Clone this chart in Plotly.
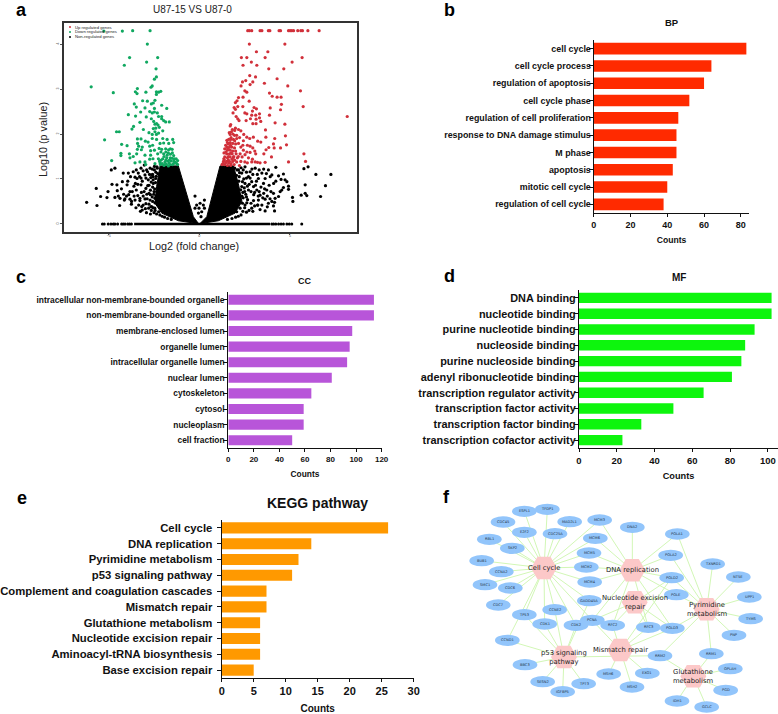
import plotly.graph_objects as go

W, H = 778, 714
SANS = "Liberation Sans"

# ---------- panel a: volcano plot (log2 fold change, -log10 p) ----------
up_points = [
 (2.67,4.3),(2.76,4.3),(2.89,4.3),(3.35,4.3),(3.45,4.3),(3.81,4.3),(3.89,4.3),(4.4,4.3),(4.48,4.3),(4.92,4.3),(5.01,4.3),(5.1,4.3),(5.2,4.3),(5.43,4.3),(5.6,4.3),(5.69,4.3),(5.99,4.3),(6.61,4.3),
 (2.76,4.0),(4.72,4.0),(3.15,3.83),(3.78,3.83),(2.32,3.7),(2.62,3.7),(3.63,3.7),(5.67,3.7),(2.87,3.6),(5.12,3.6),(2.41,3.53),(3.17,3.53),(3.83,3.45),(4.66,3.45),
 (2.78,3.3),(3.1,3.27),(4.29,3.23),(2.56,3.19),(2.38,3.16),(2.95,3.16),(2.8,3.1),(3.59,3.13),(2.3,3.07),(4.88,3.07),(2.51,2.96),(2.62,2.93),(5.58,2.96),(3.87,2.91),(4.02,2.84),(4.29,2.82),(4.51,2.82),
 (2.41,2.82),(2.16,2.81),(2.08,2.74),(2.75,2.73),(1.99,2.7),(4.53,2.66),(1.92,2.59),(2.12,2.61),(2.4,2.61),(3.02,2.59),(3.15,2.56),(3.91,2.58),(5.73,2.61),(4.48,2.54),(1.86,2.47),(1.99,2.55),(2.93,2.51),
 (8.16,2.39),(3.32,2.45),(3.87,2.42),(2.51,2.47),(2.62,2.45),(2.89,2.42),(3.11,2.42),(3.32,2.36),(2.03,2.39),(2.12,2.34),(2.82,2.34),(3.13,2.33),(2.19,2.3),(2.58,2.3),(3.39,2.28),(4.18,2.25),(4.72,2.22),
 (1.73,2.21),(1.7,2.18),(2.95,2.23),(1.99,2.13),(3.13,2.23),(3.65,2.09),(1.77,2.05),(1.95,2.08),(2.16,2.1),(2.29,2.07),(2.45,1.99),(1.7,1.99),(2.06,1.97),(1.94,1.97),(4.75,1.96),(3.67,1.93),(4.16,1.9),(2.98,1.93),(2.78,1.9),(3.22,1.84),(3.39,1.82),
 (1.62,1.88),(1.73,1.88),(1.88,1.88),(2.06,1.9),(2.43,1.85),(2.62,1.93),(1.55,1.81),(1.7,1.81),(1.84,1.79),(2.16,1.79),(4.81,1.76),(4.09,1.78),(3.83,1.7),(4.48,1.69),(4.13,1.69),(3.68,1.65),(2.65,1.75),(2.8,1.73),(2.95,1.69),
 (1.51,1.71),(1.66,1.71),(1.79,1.71),(1.94,1.69),(2.29,1.71),(1.4,1.67),(1.55,1.64),(1.7,1.64),(1.84,1.62),(2.43,1.64),(3.06,1.62),(2.62,1.6),(5.77,1.56),(3.56,1.56),(2.8,1.59),(3.11,1.56),
 (1.36,1.58),(1.51,1.56),(1.66,1.56),(1.81,1.56),(2.03,1.56),(2.25,1.56),(2.52,1.54),(2.93,1.44),(3.98,1.49),(1.4,1.49),(1.55,1.47),(1.7,1.49),(1.88,1.48),(2.1,1.47),(2.36,1.49),(2.71,1.47),
 (5.86,1.39),(4.92,1.38),(2.89,1.38),(3.08,1.38),(3.21,1.37),(3.35,1.36),(3.63,1.37),(1.33,1.39),(1.51,1.39),(1.66,1.39),(1.84,1.39),(2.06,1.38),(2.29,1.39),(2.51,1.38),(2.65,1.36),
 (1.25,1.32),(1.4,1.32),(1.55,1.3),(1.73,1.3),(1.92,1.32),(2.21,1.3),(1.45,1.75),(1.6,1.78),(1.75,1.92),(1.35,1.45),(1.45,1.36),(1.6,1.42),(1.75,1.34),(1.95,1.42),(1.47,1.6),(1.6,1.5),(1.75,1.58),(1.9,1.5),(2.0,1.62),(1.95,1.85),(1.65,2.03),(1.85,2.0),
 (1.3,1.34),(1.38,1.42),(1.62,1.35),(1.8,1.44),(2.15,1.5),(1.58,1.68),(1.72,1.75),(2.0,1.78),(1.52,1.86),(1.82,2.1),(2.22,1.92),(2.4,1.75),
]
down_points = [
 (-2.72,4.3),(-3.68,4.3),(-4.25,4.29),(-5.27,4.29),(-2.87,4.0),(-3.85,3.7),(-2.3,3.7),(-2.91,3.6),(-4.14,3.53),(-2.39,3.45),(-2.37,3.27),(-2.48,3.22),(-2.6,3.07),(-2.67,3.04),(-5.97,3.05),
 (-4.75,2.92),(-3.42,3.01),(-3.53,2.94),(-3.44,2.9),(-2.95,2.93),(-2.37,2.94),(-2.13,2.95),(-2.25,2.93),(-2.37,2.88),(-3.13,2.74),(-2.87,2.73),(-2.45,2.75),(-3.59,2.67),(-2.54,2.69),(-2.65,2.67),
 (-3.48,2.6),(-2.08,2.64),(-3.0,2.58),(-2.48,2.57),(-1.8,2.57),(-2.74,2.5),(-2.6,2.47),(-2.48,2.49),(-2.32,2.47),(-3.24,2.49),(-3.92,2.43),(-3.52,2.4),(-2.93,2.38),(-2.25,2.39),(-2.08,2.39),(-2.08,2.34),(-2.65,2.34),
 (-3.28,2.26),(-2.52,2.28),(-1.97,2.3),(-2.45,2.22),(-2.36,2.23),(-2.28,2.2),(-1.86,2.27),(-1.66,2.27),(-3.63,2.17),(-3.72,2.11),(-2.54,2.12),(-2.41,2.13),(-2.21,2.15),(-3.09,2.1),(-4.57,2.05),(-4.42,2.05),(-2.78,2.03),(-2.45,2.05),(-2.25,2.02),(-2.02,2.07),(-2.6,1.99),(-2.37,1.99),
 (-5.23,1.87),(-3.42,1.89),(-3.22,1.89),(-2.98,1.84),(-2.6,1.9),(-2.36,1.88),(-2.02,1.9),(-1.78,1.88),(-1.47,1.88),(-2.83,1.82),(-3.41,1.79),(-4.29,1.77),(-3.99,1.74),(-3.35,1.73),(-3.15,1.71),(-2.74,1.73),(-2.58,1.75),(-2.17,1.79),(-1.97,1.8),(-1.69,1.79),(-1.42,1.81),
 (-3.42,1.66),(-3.2,1.65),(-2.69,1.63),(-2.48,1.64),(-2.08,1.66),(-1.86,1.67),(-1.6,1.67),(-4.33,1.57),(-4.33,1.52),(-3.86,1.56),(-3.46,1.56),(-3.65,1.5),(-3.83,1.47),(-3.0,1.53),(-2.69,1.53),(-2.3,1.56),(-1.97,1.56),(-1.71,1.58),(-1.49,1.58),
 (-4.84,1.41),(-3.55,1.36),(-3.28,1.38),(-3.0,1.38),(-2.74,1.44),(-2.56,1.45),(-2.26,1.45),(-2.02,1.45),(-1.8,1.47),(-1.6,1.47),(-1.38,1.45),(-1.2,1.41),(-2.96,1.32),(-2.45,1.34),(-2.17,1.36),(-1.9,1.38),(-1.67,1.36),(-1.43,1.34),(-1.25,1.34),(-1.95,1.3),(-1.71,1.29),
 (-2.15,1.32),(-2.05,1.34),(-1.92,1.32),(-1.82,1.33),(-1.75,1.4),(-1.62,1.32),(-1.55,1.4),(-1.48,1.32),(-1.4,1.4),(-1.32,1.37),(-1.28,1.45),(-1.2,1.32),(-1.5,1.46),(-1.65,1.42),(-1.85,1.42),(-1.95,1.5),(-2.1,1.42),(-2.2,1.4),(-1.78,1.53),(-1.6,1.55),(-1.42,1.52),(-1.85,1.6),(-1.7,1.65),(-1.5,1.66),(-2.12,1.6),(-2.22,1.68),
]
non_points = [
 (-6.22,0.48),(-5.69,0.79),(-5.65,0.41),(-5.45,0.61),(-5.1,0.585),(-5.04,0.72),(-4.82,0.88),(-4.86,1.2),(-4.66,1.24),(-4.55,0.87),(-4.53,0.74),(-4.47,0.62),(-4.4,0.41),(-4.25,0.94),(-4.2,1.13),(-4.14,0.53),(-3.99,0.87),(-3.92,1.13),(-3.83,0.72),(-3.74,0.5),(-3.65,1.16),(-3.61,0.84),(-3.53,0.9),(-3.48,0.755),(-3.44,1.01),(-3.37,1.13),(-3.28,0.57),(-3.22,0.87),(-3.18,0.385),(-3.15,0.31),(-3.04,1.31),(-3.0,1.09),(-2.95,0.79),(-2.91,1.2),(-2.82,0.98),(-2.78,0.68),(-2.72,1.24),(-2.67,0.385),(-2.63,1.09),(-2.54,0.9),(-2.48,1.2),(-2.45,0.57),(-2.41,1.01),(-2.34,1.27),
 (-4.66,0.59),(-4.38,0.57),(-4.11,0.555),(-3.83,0.55),(-3.55,0.53),(-3.28,0.52),(-3.0,0.555),(-2.72,0.53),(-2.45,0.47),(-2.26,0.42),(-4.3,0.78),(-3.9,0.65),(-3.7,0.72),(-3.4,0.63),(-3.2,0.7),(-3.1,0.62),(-2.9,0.66),(-2.85,0.85),(-2.7,0.75),(-2.6,0.6),(-2.55,1.05),(-2.8,0.35),(-2.95,0.45),(-3.1,0.42),(-3.35,0.42),(-2.65,0.3),(-2.5,0.25),(-2.4,1.15),(-2.6,1.22),(-2.75,1.1),(-3.15,0.95),(-3.3,1.05),
 (-2.32,1.24),(-2.38,1.06),(-2.42,0.92),(-2.47,0.78),(-2.52,0.66),(-2.58,0.5),(-2.62,0.38),(-2.55,0.36),(-2.44,0.3),(-2.36,0.22),(-2.25,0.27),(-2.18,0.2),(-2.05,0.17),(-1.92,0.15),(-1.75,0.12),(-1.55,0.1),(-2.3,1.12),(-2.48,1.28),(-2.58,1.1),(-2.66,0.93),(-2.58,0.82),(-2.7,0.65),(-2.78,0.44),(-2.88,0.56),(-2.98,0.34),(-3.05,0.72),(-2.68,1.03),(-2.86,1.16),(-2.5,0.72),(-2.46,0.35),(-2.7,0.22),(-2.92,0.25),(-2.4,0.62),(-2.35,0.52),(-2.55,0.98),(-2.35,0.72),(-2.78,0.86),(-2.95,1.02),(-3.1,1.18),(-3.22,1.02),(-3.4,0.88),(-3.6,0.62),(-3.75,0.44),(-3.5,0.36),(-3.25,0.28),(-4.02,0.62),(-4.18,0.66),(-3.95,0.95),(-3.8,1.05),(-3.55,1.04),(-3.48,1.2),(-3.22,1.24),
 (1.79,0.68),(2.06,0.27),(2.16,1.2),(2.25,0.35),(2.34,1.13),(2.52,1.27),(2.71,1.05),(2.8,1.16),(2.89,0.94),(2.99,0.83),(3.08,1.24),(3.17,0.755),(3.22,0.42),(3.26,1.01),(3.35,0.64),(3.45,1.13),(3.54,0.9),(3.63,1.01),(3.72,0.755),(3.81,1.2),(3.91,1.05),(4.0,1.09),(4.09,0.68),(4.15,0.48),(4.15,0.29),(4.22,1.26),(4.37,1.07),(4.51,0.99),(4.64,1.11),(4.73,0.98),(4.83,0.94),(4.92,0.84),(4.64,0.81),(4.55,0.755),(4.92,0.77),(4.46,0.72),(4.37,0.61),(5.14,0.59),(5.16,0.5),(5.62,0.64),(5.84,0.68),(5.93,0.63),(5.84,0.87),(5.77,1.23),(6.0,1.27),(6.43,1.1),(7.26,1.1),(6.96,0.85),(6.69,0.61),
 (3.22,0.42),(2.89,0.35),(2.52,0.42),(3.63,0.29),(3.81,0.46),(4.09,0.4),(3.45,0.42),(2.71,0.755),(2.34,0.83),(4.18,0.57),(3.9,0.56),(3.63,0.55),(3.26,0.53),(2.99,0.52),(2.62,0.47),(3.0,0.65),(3.3,0.72),(3.55,0.68),(3.75,0.62),(2.75,0.88),(2.6,0.6),(2.35,0.62),(2.45,1.0),(2.2,1.05),(2.4,0.7),(2.95,1.1),(3.15,0.95),(2.6,1.15),(2.3,1.25),
 (1.95,1.24),(2.05,1.08),(2.18,0.95),(2.28,0.76),(2.42,0.58),(2.5,0.36),(2.4,0.28),(2.3,0.2),(2.15,0.17),(2.0,0.15),(1.8,0.12),(1.55,0.1),(2.08,1.2),(2.22,1.14),(2.38,0.94),(2.48,0.8),(2.56,0.66),(2.66,0.54),(2.74,0.3),(2.85,0.46),(2.95,0.28),(3.05,0.7),(2.6,1.02),(2.8,1.02),(2.5,0.72),(2.6,0.26),(2.38,0.46),(2.52,0.9),(2.42,1.2),(2.65,0.84),(2.85,0.72),(3.1,0.86),(3.2,1.1),(3.4,0.82),(3.6,0.78),(3.85,0.86),(3.95,0.72),(4.1,0.9),(4.22,0.95),(3.7,1.12),(3.55,1.22),(3.3,1.2),(2.9,1.22),(3.05,0.4),(3.35,0.32),(3.5,0.58),(4.0,0.5),(3.75,0.38),(3.25,0.62),
 (-0.24,0.62),(0.28,0.53),(0.04,0.46),(-0.15,0.42),(-0.02,0.35),(0.22,0.42),(0.13,0.27),(0.28,0.35),(-0.05,0.24),(-0.24,0.35),(0.09,0.16),
]
wedge_left_x = [-2.17,-1.16,-0.33,-0.05,-0.15,-1.16,-2.08,-2.45,-2.36,-2.17]
wedge_left_y = [1.29,1.29,0.16,0.01,0.01,0.07,0.24,0.46,0.83,1.29]
wedge_right_x = [1.14,1.88,2.15,2.35,1.97,1.05,0.1,0.04,0.41,1.14]
wedge_right_y = [1.29,1.29,0.9,0.5,0.24,0.07,0.01,0.01,0.16,1.29]
zero_row_x = [-5.35,-5.25,-5.03,-4.88,-4.75,-4.66,-4.51,-4.29,-4.2,-4.1,-3.95,-3.85,-3.75,4.0,4.1,4.22,4.37,4.51,4.64,4.83,4.96,5.1,5.65]
zero_band_x = [-3.6,3.9]
zero_band_y = [0,0]
legend_labels = ["Up regulated genes","Down regulated genes","Non-regulated genes"]
legend_key_x = [-7.14,-7.14,-7.14]
legend_key_y = [4.38,4.27,4.16]
volcano_xticks = [-5,0,5]
volcano_yticks = [0,1,2,3,4]

# ---------- panels b-e: enrichment bars ----------
bp_terms = ["cell cycle","cell cycle process","regulation of apoptosis","cell cycle phase","regulation of cell proliferation","response to DNA damage stimulus","M phase","apoptosis","mitotic cell cycle","regulation of cell cycle"]
bp_counts = [83,64,60,52,46,45,45,43,40,38]
cc_terms = ["intracellular non-membrane-bounded organelle","non-membrane-bounded organelle","membrane-enclosed lumen","organelle lumen","intracellular organelle lumen","nuclear lumen","cytoskeleton","cytosol","nucleoplasm","cell fraction"]
cc_counts = [114,114,97,95,93,81,65,59,59,50]
mf_terms = ["DNA binding","nucleotide binding","purine nucleotide binding","nucleoside binding","purine nucleoside binding","adenyl ribonucleotide binding","transcription regulator activity","transcription factor activity","transcription factor binding","transcription cofactor activity"]
mf_counts = [102,102,93,88,86,81,66,50,33,23]
kegg_terms = ["Cell cycle","DNA replication","Pyrimidine metabolism","p53 signaling pathway","Complement and coagulation cascades","Mismatch repair","Glutathione metabolism","Nucleotide excision repair","Aminoacyl-tRNA biosynthesis","Base excision repair"]
kegg_counts = [26,14,12,11,7,7,6,6,6,5]

# ---------- panel f: pathway-gene network (layout units) ----------
hub_names = ["Cell cycle","DNA replication","Nucleotide excision<br>repair","Pyrimidine<br>metabolism","p53 signaling<br>pathway","Mismatch repair","Glutathione<br>metabolism"]
hub_x = [312,577,584,800,372,541,760]
hub_y = [264,271,367,388,531,510,589]
gene_names = ["ESPL1","TFDP1","CDC45","MAD2L1","MCM3","E2F2","CDC25A","DNA2","POLA1","RBL1","MCM6","SKP2","MCM5","POLA2","TXNRD1","BUB1","CCNA2","MCM2","NT5E","POLD2","SMC1","CDC6","MCM4","POLE","UPP1","CDC7","GADD45A","CCNE2","TP53","TYMS","PCNA","CDK1","CDK2","RFC2","RFC3","POLD3","PNP","CCND1","RRM2","RRM1","BBC3","OPLAH","EXO1","MSH6","SESN2","TP73","MSH2","PGD","IGFBP5","IDH1","GCLC"]
gene_x = [253,322,189,389,479,253,345,577,712,148,466,217,447,692,818,125,184,439,895,695,135,211,449,709,928,175,448,344,253,932,457,314,408,518,625,697,882,202,660,814,255,871,622,506,308,431,576,857,368,711,800]
gene_y = [94,88,126,125,120,157,161,142,162,178,175,205,219,226,252,242,275,261,291,293,314,324,306,344,351,375,362,389,404,416,421,432,436,436,442,445,466,481,527,521,554,566,580,582,605,611,621,631,635,663,681]
hub_links = {
 "Cell cycle": ["ESPL1","TFDP1","CDC45","MAD2L1","MCM3","E2F2","CDC25A","RBL1","MCM6","SKP2","MCM5","BUB1","CCNA2","MCM2","SMC1","CDC6","MCM4","CDC7","GADD45A","CCNE2","TP53","CDK1","CDK2","PCNA","CCND1"],
 "DNA replication": ["DNA2","POLA1","MCM3","MCM6","MCM5","MCM2","MCM4","POLA2","POLD2","POLE","POLD3","RFC2","RFC3","PCNA"],
 "Nucleotide excision<br>repair": ["POLD2","POLE","POLD3","RFC2","RFC3","PCNA"],
 "Pyrimidine<br>metabolism": ["POLA1","POLA2","POLD2","POLE","POLD3","TXNRD1","NT5E","UPP1","TYMS","PNP","RRM1","RRM2"],
 "p53 signaling<br>pathway": ["TP53","CDK1","CDK2","CCNE2","CCND1","BBC3","SESN2","IGFBP5","TP73","GADD45A","RRM2"],
 "Mismatch repair": ["PCNA","RFC2","RFC3","POLD3","POLD2","MSH6","EXO1","MSH2"],
 "Glutathione<br>metabolism": ["RRM2","RRM1","OPLAH","PGD","IDH1","GCLC"],
}

panel_letters = ["a","b","c","d","e","f"]
letter_px = [(21,10),(449,10),(21,277),(449,276),(22,498),(447,497)]


def xdom(l, r):
    return [l / W, r / W]

def ydom(top, bottom):
    return [1 - bottom / H, 1 - top / H]

def xp(v):
    return v / W

def yp(v):
    return 1 - v / H

fig = go.Figure()
annotations = []
shapes = []

def note(px, py, text, size, weight=400, family=SANS, color="#111111", textangle=0):
    annotations.append(dict(x=xp(px), y=yp(py), xref="paper", yref="paper", text=text, showarrow=False,
                            xanchor="center", yanchor="middle", textangle=textangle,
                            font=dict(size=size, family=family, color=color, weight=weight)))

# ----- volcano -----
AX_A = dict(xaxis="x", yaxis="y")
def pts(trace_pts, color, name):
    fig.add_trace(go.Scatter(x=[p[0] for p in trace_pts], y=[p[1] for p in trace_pts], mode="markers", name=name,
                             marker=dict(color=color, size=3.2, line=dict(width=0)), showlegend=False, **AX_A))

fig.add_trace(go.Scatter(x=wedge_left_x, y=wedge_left_y, mode="lines", fill="toself", fillcolor="#000000",
                         line=dict(color="#000000", width=1), showlegend=False, hoverinfo="skip", **AX_A))
fig.add_trace(go.Scatter(x=wedge_right_x, y=wedge_right_y, mode="lines", fill="toself", fillcolor="#000000",
                         line=dict(color="#000000", width=1), showlegend=False, hoverinfo="skip", **AX_A))
fig.add_trace(go.Scatter(x=zero_band_x, y=zero_band_y, mode="lines", line=dict(color="#000000", width=2.5),
                         showlegend=False, hoverinfo="skip", **AX_A))
fig.add_trace(go.Scatter(x=zero_row_x, y=[0] * len(zero_row_x), mode="markers",
                         marker=dict(color="#000000", size=3), showlegend=False, **AX_A))
pts(non_points, "#000000", legend_labels[2])
pts(down_points, "#10a860", legend_labels[1])
pts(up_points, "#d1303a", legend_labels[0])
fig.add_trace(go.Scatter(x=legend_key_x, y=legend_key_y, mode="markers",
                         marker=dict(color=["#d1303a", "#10a860", "#000000"], size=2), showlegend=False,
                         hoverinfo="skip", **AX_A))
for lab, ky in zip(legend_labels, legend_key_y):
    annotations.append(dict(x=-6.95, y=ky, xref="x", yref="y", text=lab, showarrow=False, xanchor="left", yanchor="middle",
                            font=dict(size=4.2, family=SANS, color="#222222")))

# ----- bars -----
def bar_panel(idx, terms, counts, color, left, right, top, bottom, xmax, tick_vals, barh, lab_size, tick_size,
              title, title_y, title_size, title_standoff, title_font_size, lab_off):
    xa = "x" + str(idx)
    ya = "y" + str(idx)
    fig.add_trace(go.Bar(x=counts, y=terms, orientation="h", marker=dict(color=color, line=dict(width=0)),
                         width=barh, showlegend=False, xaxis=xa, yaxis=ya, name=title))
    fig.layout["xaxis" + str(idx)] = dict(domain=xdom(left, right), anchor=ya, range=[0, xmax], tickvals=tick_vals,
        showgrid=False, zeroline=False, showline=True, linecolor="#111111", linewidth=1.2, ticks="outside", ticklen=3,
        tickwidth=1, tickcolor="#111111", tickfont=dict(size=tick_size, family=SANS, color="#111111", weight=700),
        title=dict(text="Counts", standoff=title_standoff, font=dict(size=title_font_size, family=SANS, color="#111111", weight=700)))
    fig.layout["yaxis" + str(idx)] = dict(domain=ydom(top, bottom), anchor=xa, type="category", categoryorder="array",
        categoryarray=terms, range=[9.5, -0.5], showgrid=False, zeroline=False, showline=True, linecolor="#111111",
        linewidth=1.2, ticks="outside", ticklen=4, tickwidth=1, tickcolor="#111111", ticklabelstandoff=lab_off,
        tickfont=dict(size=lab_size, family=SANS, color="#111111", weight=700))
    note((left + right) / 2, title_y, title, title_size, 700)

bar_panel(2, bp_terms, bp_counts, "#ff2a00", 593.7, 749.3, 40, 213, 84.6, [0,20,40,60,80], 0.67, 8.9, 9,
          "BP", 23, 9.5, 8, 8.6, -4)
bar_panel(3, cc_terms, cc_counts, "#b855d9", 228.3, 381.6, 292, 448, 120, [0,20,40,60,80,100,120], 0.65, 8.4, 8,
          "CC", 281, 9, 8, 8.4, -3)
bar_panel(4, mf_terms, mf_counts, "#0df50d", 579, 778, 290, 448, 105.4, [0,20,40,60,80,100], 0.66, 10.9, 9.5,
          "MF", 278, 10, 8, 9.2, -4)
bar_panel(5, kegg_terms, kegg_counts, "#ff9900", 221.7, 413.7, 520, 678, 30, [0,5,10,15,20,25,30], 0.7, 11.3, 11,
          "KEGG pathway", 503, 14, 10, 10, 2)

# ----- network -----
gene_pos = {n: (x, y) for n, x, y in zip(gene_names, gene_x, gene_y)}
edge_x, edge_y = [], []
for hub, hx, hy in zip(hub_names, hub_x, hub_y):
    for g in hub_links[hub]:
        gx, gy = gene_pos[g]
        edge_x += [hx, gx, None]
        edge_y += [hy, gy, None]
fig.add_trace(go.Scatter(x=edge_x, y=edge_y, mode="lines", line=dict(color="#d2f7b6", width=1),
                         showlegend=False, hoverinfo="skip", xaxis="x6", yaxis="y6"))
fig.add_trace(go.Scatter(x=hub_x, y=hub_y, mode="markers", name="pathways",
                         marker=dict(symbol="hexagon2", size=26, color="#fcc8c8", line=dict(width=0)),
                         showlegend=False, xaxis="x6", yaxis="y6"))
for n, x, y in zip(gene_names, gene_x, gene_y):
    shapes.append(dict(type="circle", xref="x6", yref="y6", x0=x - 37, x1=x + 37, y0=y - 17, y1=y + 17,
                       fillcolor="#92c5fb", line=dict(width=0), layer="above"))
    annotations.append(dict(x=x, y=y, xref="x6", yref="y6", text=n, showarrow=False,
                            font=dict(size=3.6, family="DejaVu Sans", color="#223344")))
for n, x, y in zip(hub_names, hub_x, hub_y):
    annotations.append(dict(x=x, y=y, xref="x6", yref="y6", text=n, showarrow=False,
                            font=dict(size=6.8, family="DejaVu Sans", color="#222222")))

# ----- texts -----
note(192, 10, "U87-15 VS U87-0", 10, color="#222222")
note(194, 246, "Log2 (fold change)", 10.8, color="#222222")
note(43, 140, "Log10 (p value)", 10.8, color="#222222", textangle=-90)
for letter, (lx, ly) in zip(panel_letters, letter_px):
    note(lx, ly, letter, 18, 700, color="#000000")

fig.update_layout(
    width=W, height=H, autosize=False, margin=dict(l=0, r=0, t=0, b=0, autoexpand=False),
    paper_bgcolor="#ffffff", plot_bgcolor="#ffffff", showlegend=False,
    annotations=annotations, shapes=shapes,
    xaxis=dict(domain=xdom(64, 357), anchor="y", range=[-7.47, 8.7], tickvals=volcano_xticks, showgrid=False, zeroline=False,
               showline=True, mirror=True, linecolor="#333333", linewidth=1.5, ticks="outside", ticklen=1, tickwidth=0.5,
               ticklabelstandoff=-2, tickcolor="#555555", tickfont=dict(size=3.6, family=SANS, color="#444444")),
    yaxis=dict(domain=ydom(23, 232), anchor="x", range=[-0.18, 4.47], tickvals=volcano_yticks, showgrid=False, zeroline=False,
               showline=True, mirror=True, linecolor="#333333", linewidth=1.5, ticks="outside", ticklen=2, tickwidth=0.5,
               tickcolor="#555555", tickangle=-90, tickfont=dict(size=3.6, family=SANS, color="#444444")),
    xaxis6=dict(domain=xdom(440, 778), anchor="y6", range=[0, 1014], visible=False, fixedrange=True),
    yaxis6=dict(domain=ydom(480, 714), anchor="x6", range=[702, 0], visible=False, fixedrange=True),
)

fig.write_html("out.html", post_script="document.body.style.margin='0';document.body.style.overflow='hidden';",
               config={"displayModeBar": False})
